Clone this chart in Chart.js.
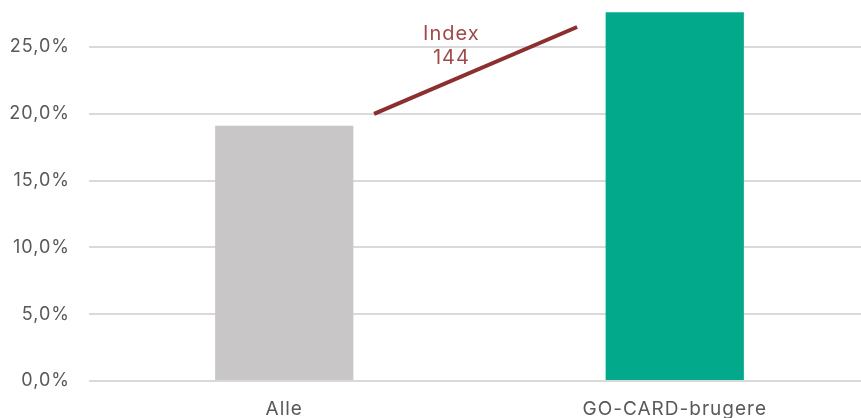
<!DOCTYPE html>
<html>
<head>
<meta charset="utf-8">
<script src="https://cdn.jsdelivr.net/npm/chart.js@4/dist/chart.umd.min.js"></script>
<style>
  html, body { margin: 0; padding: 0; background: #fff; overflow: hidden; }
  #wrap { width: 870px; height: 418px; position: relative; }
</style>
</head>
<body>
<div id="wrap"><canvas id="indexChart"></canvas></div>
<script>
// Andel (%) - Alle vs. GO-CARD-brugere
const categories = ['Alle', 'GO-CARD-brugere'];
const shareValues = [19.1, 27.6];
const barColors = ['#c8c6c6', '#02aa8b'];

// index arrow, x in category units (0 = Alle, 1 = GO-CARD-brugere)
const indexLineX = [0.23, 0.75];
const indexLineY = [20.0, 26.5];
const indexLabelLines = ['Index', '144'];
const indexLabelX = 0.428;
const indexLabelY = [26.0, 24.2];

const yTicks = [0, 5, 10, 15, 20, 25];

const FONT = 'Inter, "Open Sans", sans-serif';

// wider text, closer to the original typeface
const spacingPlugin = {
  id: 'spacing',
  beforeDraw(chart) {
    chart.ctx.letterSpacing = '1px';
  }
};

const indexLabelPlugin = {
  id: 'indexLabel',
  afterDatasetsDraw(chart) {
    const { ctx, scales } = chart;
    ctx.save();
    ctx.fillStyle = '#a04a4a';
    ctx.font = '20px ' + FONT;
    ctx.textAlign = 'center';
    ctx.textBaseline = 'middle';
    indexLabelLines.forEach((txt, i) => {
      ctx.fillText(txt, scales.x.getPixelForValue(indexLabelX), scales.y.getPixelForValue(indexLabelY[i]));
    });
    ctx.restore();
  }
};

const ctx = document.getElementById('indexChart');
new Chart(ctx.getContext('2d'), {
  type: 'bar',
  data: {
    datasets: [{
      type: 'bar',
      data: categories.map((c, i) => ({ x: i, y: shareValues[i] })),
      backgroundColor: barColors,
      borderWidth: 0,
      grouped: false,
      categoryPercentage: 1,
      barPercentage: 0.354,
      order: 2
    }, {
      type: 'line',
      data: indexLineX.map((x, i) => ({ x: x, y: indexLineY[i] })),
      borderColor: '#8b2f2f',
      borderWidth: 4,
      pointRadius: 0,
      fill: false,
      order: 1
    }]
  },
  options: {
    responsive: true,
    maintainAspectRatio: false,
    animation: false,
    layout: { padding: { top: 11, right: 0, bottom: 0, left: 0 } },
    scales: {
      x: {
        type: 'linear',
        min: -0.5,
        max: 1.5,
        offset: false,
        grid: { display: false },
        border: { display: false },
        ticks: {
          color: '#595959',
          font: { family: FONT, size: 19 },
          padding: 9,
          callback: (v) => categories[v]
        },
        afterBuildTicks: (axis) => {
          axis.ticks = categories.map((c, i) => ({ value: i }));
        },
        afterFit: (s) => {
          s.height = 37;
          s.paddingLeft = 0;
          s.paddingRight = 0;
        }
      },
      y: {
        min: 0,
        max: 27.7,
        border: { display: false },
        grid: { color: '#d9d9d9', lineWidth: 2, drawTicks: false },
        ticks: {
          stepSize: 5,
          color: '#595959',
          font: { family: FONT, size: 18 },
          padding: 19,
          callback: (v) => v.toFixed(1).replace('.', ',') + '%'
        },
        afterBuildTicks: (axis) => {
          axis.ticks = yTicks.map(v => ({ value: v }));
        },
        afterFit: (s) => {
          s.width = 89;
          s.paddingTop = 0;
          s.paddingBottom = 0;
        }
      }
    },
    plugins: {
      legend: { display: false },
      tooltip: { enabled: false }
    }
  },
  plugins: [spacingPlugin, indexLabelPlugin]
});
</script>
</body>
</html>
